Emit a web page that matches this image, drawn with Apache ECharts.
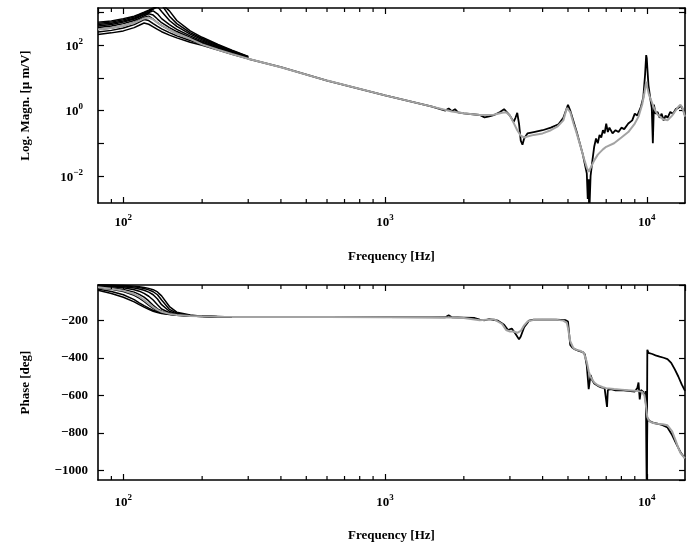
<!DOCTYPE html>
<html>
<head>
<meta charset="utf-8">
<script src="https://cdn.jsdelivr.net/npm/echarts@6/dist/echarts.min.js"></script>
<style>
  html, body { margin: 0; padding: 0; background: #fff; }
  #chart { width: 695px; height: 544px; }
</style>
</head>
<body>
<div id="chart"></div>
<script>
  // low frequency runs (black), one row per measurement
  const freqLow = [80, 90, 100, 110, 115, 120, 125, 130, 135, 140, 150, 160, 180, 200, 230, 260, 300];
  const magLow = [
    [210, 235, 270, 340, 400, 470, 430, 360, 300, 255, 200, 165, 122, 98, 70, 52, 38],
    [250, 280, 330, 420, 500, 600, 560, 450, 370, 310, 240, 190, 138, 106, 74, 54, 39],
    [300, 330, 390, 490, 580, 700, 760, 620, 480, 390, 290, 225, 155, 114, 78, 56, 40],
    [340, 380, 450, 560, 650, 780, 900, 820, 620, 480, 340, 258, 170, 122, 82, 58, 41],
    [380, 420, 500, 620, 720, 850, 980, 1100, 900, 640, 420, 300, 190, 132, 87, 61, 42],
    [420, 460, 540, 660, 760, 880, 1020, 1250, 1500, 1050, 560, 370, 215, 145, 92, 64, 43],
    [460, 500, 590, 710, 820, 950, 1100, 1300, 1600, 1700, 760, 450, 240, 158, 98, 67, 44],
    [500, 540, 640, 760, 870, 1000, 1150, 1350, 1500, 1800, 1100, 560, 270, 172, 104, 70, 45]
  ];
  const phLow = [
    [-38, -55, -75, -100, -115, -128, -140, -150, -157, -162, -168, -172, -176, -178, -179, -180, -180],
    [-32, -45, -62, -88, -105, -120, -133, -145, -153, -159, -166, -171, -175, -178, -179, -180, -180],
    [-25, -33, -45, -65, -80, -98, -118, -135, -147, -155, -164, -170, -175, -177, -179, -180, -180],
    [-20, -26, -34, -48, -60, -75, -95, -118, -137, -150, -163, -169, -175, -177, -179, -180, -180],
    [-15, -19, -25, -35, -43, -55, -70, -90, -115, -138, -158, -167, -174, -177, -179, -180, -180],
    [-12, -15, -19, -26, -31, -38, -48, -62, -85, -115, -150, -164, -173, -177, -179, -180, -180],
    [-10, -12, -15, -20, -24, -29, -36, -46, -62, -90, -140, -160, -172, -176, -179, -180, -180],
    [-8, -10, -12, -16, -19, -23, -28, -35, -47, -68, -125, -155, -170, -176, -178, -180, -180]
  ];

  // measured magnitude above 300 Hz (black)
  const freqMeas = [300, 400, 600, 1000, 1500, 1700, 1750, 1800, 1850, 1900,
    2000, 2300, 2400, 2500, 2600, 2750, 2850, 2900, 3000, 3100,
    3150, 3200, 3250, 3300, 3350, 3400, 3500, 3700, 4000, 4300,
    4600, 4800, 5000, 5100, 5400, 5700, 5900, 5950, 6000, 6050,
    6100, 6200, 6300, 6400, 6500, 6600, 6700, 6800, 6900, 7000,
    7100, 7200, 7400, 7600, 7800, 8000, 8200, 8500, 8800, 9000,
    9200, 9500, 9700, 9850, 9950, 10000, 10050, 10150, 10300, 10450,
    10550, 10650, 10800, 11000, 11200, 11400, 11600, 11800, 12000, 12300,
    12600, 12900, 13200, 13500, 13800, 14000];
  const magMeas = [38, 21, 8.2, 2.9, 1.34, 1.0, 1.15, 0.95, 1.1, 0.88,
    0.82, 0.73, 0.62, 0.66, 0.72, 0.9, 1.1, 0.95, 0.7, 0.45,
    0.6, 0.85, 0.4, 0.12, 0.09, 0.14, 0.2, 0.22, 0.25, 0.3,
    0.38, 0.6, 1.5, 1.0, 0.22, 0.045, 0.012, 0.002, 0.008, 0.0015,
    0.01, 0.03, 0.08, 0.14, 0.1, 0.18, 0.15, 0.25, 0.2, 0.4,
    0.22, 0.3, 0.2, 0.25, 0.22, 0.3, 0.27, 0.4, 0.5, 0.8,
    0.7, 1.3, 2.5, 12, 49, 40, 20, 6, 2.5, 1.2,
    0.1, 1.5, 0.8, 0.9, 0.6, 0.8, 0.5, 0.7, 0.6, 0.9,
    0.8, 1.1, 1.2, 1.4, 1.0, 0.7];

  // measured phase above 300 Hz (black)
  const freqPh = [300, 1000, 1700, 1750, 1800, 2000, 2200, 2300, 2400, 2500,
    2700, 2850, 2950, 3050, 3150, 3250, 3300, 3400, 3550, 3700,
    4000, 4500, 4900, 5000, 5100, 5200, 5300, 5500, 5700, 5800,
    5850, 5900, 6000, 6100, 6200, 6300, 6500, 6700, 6900, 7000,
    7050, 7100, 7300, 7600, 8000, 8500, 9000, 9200, 9300, 9400,
    9500, 9700, 9850, 9950, 10000, 10050, 10100, 10200, 10400, 10600,
    11000, 11500, 12000, 12500, 13000, 13500, 14000];
  const phMeas = [-180, -181, -182, -172, -182, -184, -186, -195, -198, -192,
    -200, -222, -250, -242, -270, -300, -285, -235, -200, -195,
    -195, -195, -198, -205, -330, -345, -352, -362, -368, -380,
    -410, -440, -565, -490, -520, -535, -548, -556, -560, -570,
    -660, -570, -565, -572, -570, -575, -578, -560, -530, -620,
    -570, -580, -600, -660, -1048, -740, -720, -735, -740, -745,
    -750, -758, -770, -810, -860, -905, -935];
  // wrapped phase branch after 10 kHz (black)
  const freqPhUp = [9900, 9960, 10000, 10050, 10150, 10300, 10500, 10800, 11200, 11600, 12000, 12400, 12800, 13200, 13600, 14000];
  const phUp = [-575, -600, -1045, -355, -372, -365, -378, -385, -392, -398, -405, -425, -460, -498, -540, -575];

  // model fit (grey)
  const freqFit = [80, 90, 100, 110, 115, 120, 125, 130, 135, 140,
    150, 160, 180, 200, 230, 260, 300, 400, 600, 1000,
    1500, 1800, 2000, 2300, 2600, 2800, 2900, 3000, 3100, 3200,
    3300, 3400, 3500, 3700, 4000, 4300, 4550, 4800, 4950, 5000,
    5100, 5250, 5400, 5600, 5750, 5900, 6000, 6100, 6300, 6500,
    6800, 7000, 7500, 8000, 8500, 9000, 9300, 9600, 9800, 9900,
    9960, 10050, 10200, 10400, 10700, 11000, 11500, 12000, 12500, 12900,
    13200, 13450, 13700, 14000];
  const magFit = [300, 330, 390, 480, 555, 650, 690, 600, 480, 395,
    290, 225, 155, 105, 72, 53, 38, 21, 8.2, 2.9,
    1.34, 0.93, 0.82, 0.73, 0.74, 0.86, 0.88, 0.7, 0.42, 0.25,
    0.17, 0.15, 0.16, 0.18, 0.2, 0.25, 0.32, 0.5, 1.2, 1.38,
    0.9, 0.4, 0.2, 0.075, 0.035, 0.018, 0.0135, 0.015, 0.03, 0.045,
    0.065, 0.078, 0.1, 0.15, 0.22, 0.4, 0.65, 1.5, 3.5, 6,
    7.6, 5, 3, 2, 1.1, 0.75, 0.55, 0.5, 0.7, 1.0,
    1.3, 1.5, 1.2, 0.65];
  const phFit = [-22, -30, -40, -58, -72, -90, -110, -128, -143, -153,
    -164, -170, -175, -177, -179, -180, -180, -180, -181, -182,
    -182, -183, -186, -198, -192, -218, -250, -258, -258, -265,
    -255, -225, -205, -196, -195, -195, -196, -200, -212, -240,
    -310, -348, -356, -362, -372, -420, -470, -500, -530, -545,
    -555, -560, -565, -568, -571, -574, -576, -580, -600, -640,
    -670, -715, -735, -742, -747, -750, -753, -758, -790, -840,
    -880, -905, -920, -935];

  // axis ticks
  const minorTicksX = [90, 200, 300, 400, 500, 600, 700, 800, 900, 2000, 3000, 4000, 5000, 6000, 7000, 8000, 9000];

  const FONT = "'Liberation Serif', 'DejaVu Serif', serif";
  const pairs = (xs, ys) => xs.map((x, i) => [x, ys[i]]);

  function powLabel(v, evenOnly) {
    const lg = Math.log10(v);
    const e = Math.round(lg);
    if (Math.abs(lg - e) > 1e-6) return '';
    if (evenOnly && e % 2 !== 0) return '';
    return '{b|10}{s|' + (e < 0 ? '\u2212' + (-e) : e) + '}';
  }
  const richPow = {
    b: { fontSize: 13, fontWeight: 'bold', fontFamily: FONT, color: '#000', lineHeight: 16, verticalAlign: 'bottom' },
    s: { fontSize: 9, fontWeight: 'bold', fontFamily: FONT, color: '#000', lineHeight: 9, verticalAlign: 'top' }
  };

  const nameStyle = { fontSize: 13, fontWeight: 'bold', fontFamily: FONT, color: '#000' };
  const axisLine = { show: true, onZero: false, lineStyle: { color: '#000', width: 1.6 } };
  const tickIn = { show: true, inside: true, length: 6, lineStyle: { color: '#000', width: 1.2 } };

  function xAxes(gridIndex, gap, margin) {
    return [
      {
        type: 'log', logBase: 10, gridIndex: gridIndex, min: 80, max: 14000, position: 'bottom',
        name: 'Frequency [Hz]', nameLocation: 'middle', nameGap: gap, nameTextStyle: nameStyle,
        axisLine: axisLine, axisTick: tickIn, splitLine: { show: false }, minorTick: { show: false },
        axisLabel: { margin: margin, showMinLabel: false, showMaxLabel: false, formatter: v => powLabel(v, false), rich: richPow }
      },
      {
        type: 'log', logBase: 10, gridIndex: gridIndex, min: 80, max: 14000, position: 'top',
        axisLine: axisLine, axisTick: tickIn, splitLine: { show: false }, axisLabel: { show: false }
      }
    ];
  }

  function minorTickSeries(xIdx, yIdx, yVal) {
    return {
      type: 'custom', xAxisIndex: xIdx, yAxisIndex: yIdx, silent: true, z: 5,
      data: minorTicksX.map(f => [f, yVal]),
      renderItem: function (params, api) {
        const cs = params.coordSys;
        const x = api.coord([api.value(0), api.value(1)])[0];
        const st = { stroke: '#000', lineWidth: 1.2 };
        return {
          type: 'group',
          children: [
            { type: 'line', shape: { x1: x, y1: cs.y + cs.height, x2: x, y2: cs.y + cs.height - 4 }, style: st },
            { type: 'line', shape: { x1: x, y1: cs.y, x2: x, y2: cs.y + 4 }, style: st }
          ]
        };
      }
    };
  }

  function lineSeries(data, xIdx, yIdx, color, width, z) {
    return {
      type: 'line', xAxisIndex: xIdx, yAxisIndex: yIdx, data: data,
      showSymbol: false, symbol: 'none', silent: true, z: z,
      lineStyle: { color: color, width: width }
    };
  }

  const series = [];
  magLow.forEach(m => series.push(lineSeries(pairs(freqLow, m), 0, 0, '#000', 1.5, 2)));
  series.push(lineSeries(pairs(freqMeas, magMeas), 0, 0, '#000', 1.8, 2));
  series.push(lineSeries(pairs(freqFit, magFit), 0, 0, '#a3a3a3', 2, 3));
  series.push(minorTickSeries(0, 0, 1));

  phLow.forEach(p => series.push(lineSeries(pairs(freqLow, p), 2, 2, '#000', 1.5, 2)));
  series.push(lineSeries(pairs(freqPh, phMeas), 2, 2, '#000', 1.8, 2));
  series.push(lineSeries(pairs(freqPhUp, phUp), 2, 2, '#000', 1.8, 2));
  series.push(lineSeries(pairs(freqFit, phFit), 2, 2, '#a3a3a3', 2, 3));
  series.push(minorTickSeries(2, 2, -500));

  const chart = echarts.init(document.getElementById('chart'), null, { renderer: 'canvas' });
  chart.setOption({
    backgroundColor: '#fff',
    animation: false,
    grid: [
      { left: 98, top: 8, width: 587, height: 195, containLabel: false, outerBoundsMode: 'none' },
      { left: 98, top: 285, width: 587, height: 195, containLabel: false, outerBoundsMode: 'none' }
    ],
    xAxis: xAxes(0, 47, 10).concat(xAxes(1, 49, 13)),
    yAxis: [
      {
        type: 'log', logBase: 10, gridIndex: 0, min: 0.0015, max: 1350, position: 'left',
        name: 'Log. Magn. [\u00b5 m/V]', nameLocation: 'middle', nameGap: 66, nameTextStyle: nameStyle,
        axisLine: axisLine, axisTick: tickIn, splitLine: { show: false },
        axisLabel: { margin: 15, showMinLabel: false, showMaxLabel: false, formatter: v => powLabel(v, true), rich: richPow }
      },
      {
        type: 'log', logBase: 10, gridIndex: 0, min: 0.0015, max: 1350, position: 'right',
        axisLine: axisLine, axisTick: tickIn, splitLine: { show: false }, axisLabel: { show: false }
      },
      {
        type: 'value', gridIndex: 1, min: -1050, max: -10, position: 'left',
        name: 'Phase [deg]', nameLocation: 'middle', nameGap: 66, nameTextStyle: nameStyle,
        axisLine: axisLine, axisTick: tickIn, splitLine: { show: false },
        axisLabel: {
          margin: 10, showMinLabel: false, showMaxLabel: false,
          fontSize: 13, fontWeight: 'bold', fontFamily: FONT, color: '#000',
          formatter: v => (v % 200 === 0 ? String(v).replace('-', '\u2212') : '')
        }
      },
      {
        type: 'value', gridIndex: 1, min: -1050, max: -10, position: 'right',
        axisLine: axisLine, axisTick: tickIn, splitLine: { show: false }, axisLabel: { show: false }
      }
    ],
    series: series
  });
</script>
</body>
</html>
